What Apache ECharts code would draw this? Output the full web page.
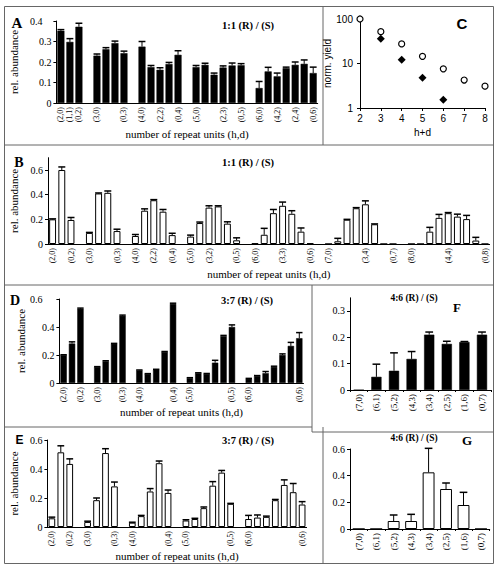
<!DOCTYPE html>
<html><head><meta charset="utf-8">
<script src="https://cdn.jsdelivr.net/npm/echarts@6/dist/echarts.min.js"></script>
<style>html,body{margin:0;padding:0;background:#fff}#c{width:500px;height:572px}</style>
</head><body><div id="c"></div>
<script>
// ---------- DATA ----------
// repeat-unit categories (h,d), grouped by h+d = 2..8
const unitGroups = [
  ['(2,0)','(1,1)','(0,2)'],
  ['(3,0)','(2,1)','(1,2)','(0,3)'],
  ['(4,0)','(3,1)','(2,2)','(1,3)','(0,4)'],
  ['(5,0)','(4,1)','(3,2)','(2,3)','(1,4)','(0,5)'],
  ['(6,0)','(5,1)','(4,2)','(3,3)','(2,4)','(1,5)','(0,6)'],
  ['(7,0)','(6,1)','(5,2)','(4,3)','(3,4)','(2,5)','(1,6)','(0,7)'],
  ['(8,0)','(7,1)','(6,2)','(5,3)','(4,4)','(3,5)','(2,6)','(1,7)','(0,8)']
];
const catsFG = ['(7,0)','(6,1)','(5,2)','(4,3)','(3,4)','(2,5)','(1,6)','(0,7)'];

const tickLabelsA = ['(2,0)','(1,1)','(0,2)','(3,0)','(0,3)','(4,0)','(2,2)','(0,4)','(5,0)','(2,3)','(0,5)','(6,0)','(4,2)','(2,4)','(0,6)'];
const tickLabelsB = ['(2,0)','(0,2)','(3,0)','(0,3)','(4,0)','(2,2)','(0,4)','(5,0)','(3,2)','(0,5)','(6,0)','(3,3)','(0,6)','(7,0)','(3,4)','(0,7)','(8,0)','(4,4)','(0,8)'];
const tickLabelsDE = ['(2,0)','(0,2)','(3,0)','(0,3)','(4,0)','(0,4)','(5,0)','(0,5)','(6,0)','(0,6)'];

// Panel A: 1:1 (R)/(S), black bars
const valuesA = [
  [0.352,0.298,0.372],
  [0.231,0.262,0.292,0.243],
  [0.275,0.175,0.162,0.190,0.235],
  [0.175,0.186,0.138,0.173,0.183,0.184],
  [0.073,0.154,0.130,0.170,0.186,0.191,0.146]
];
const errorsA = [
  [0.006,0.016,0.017],
  [0.008,0.008,0.010,0.010],
  [0.025,0.008,0.010,0.008,0.020],
  [0.008,0.008,0.008,0.008,0.012,0.008],
  [0.032,0.020,0.016,0.005,0.014,0.019,0.029]
];
// Panel B: 1:1 (R)/(S), white bars
const valuesB = [
  [0.200,0.600,0.195],
  [0.090,0.410,0.415,0.105],
  [0.065,0.270,0.355,0.262,0.072],
  [0.060,0.170,0.295,0.305,0.165,0.030],
  [0.005,0.075,0.250,0.310,0.245,0.100,0.005],
  [0,0.022,0.197,0.290,0.322,0.160,0,0],
  [0,0,0.100,0.212,0.250,0.222,0.202,0.028,0]
];
const errorsB = [
  [0.004,0.025,0.020],
  [0.004,0.004,0.015,0.015],
  [0.012,0.015,0.005,0.018,0.015],
  [0.012,0.008,0.015,0.005,0.015,0.020],
  [0,0.052,0.030,0.030,0.025,0.030,0],
  [0,0.024,0.003,0.005,0.028,0.003,0,0],
  [0,0,0.035,0.028,0.005,0.020,0.030,0.026,0]
];
// Panel C: normalised yield vs h+d (log scale)
const hdC = [2,3,4,5,6,7,8];
const yieldOpen = [100,52,27.5,14.5,7.6,4.25,3.1];
const hdFilled = [3,4,5,6];
const yieldFilled = [36,12.2,4.8,1.53];
// Panel D: 3:7 (R)/(S), black bars
const valuesD = [
  [0.200,0.282,0.530],
  [0.115,0.155,0.280,0.480],
  [0.090,0.065,0.095,0.222,0.565],
  [0.035,0.070,0.065,0.145,0.335,0.400],
  [0.030,0.050,0.070,0.115,0.200,0.265,0.320]
];
const errorsD = [
  [0.002,0.012,0.005],
  [0.002,0.004,0.003,0.005],
  [0.003,0.002,0.003,0.003,0.005],
  [0.003,0.003,0.003,0.017,0.005,0.015],
  [0.003,0.003,0.012,0.005,0.008,0.025,0.040]
];
// Panel E: 3:7 (R)/(S), white bars
const valuesE = [
  [0.060,0.515,0.435],
  [0.035,0.185,0.510,0.280],
  [0.030,0.075,0.245,0.440,0.235],
  [0.045,0.055,0.130,0.285,0.375,0.160],
  [0.055,0.065,0.070,0.185,0.290,0.240,0.155]
];
const errorsE = [
  [0.008,0.045,0.035],
  [0.005,0.015,0.030,0.030],
  [0.003,0.005,0.020,0.015,0.020],
  [0.005,0.005,0.008,0.028,0.015,0.003],
  [0.025,0.018,0.005,0.005,0.035,0.060,0.020]
];
// Panel F: 4:6 (R)/(S), black bars
const valuesF = [0,0.050,0.073,0.118,0.210,0.175,0.182,0.210];
const errorsF = [0,0.048,0.068,0.028,0.010,0.010,0.002,0.010];
// Panel G: 4:6 (R)/(S), white bars
const valuesG = [0,0,0.060,0.060,0.425,0.300,0.180,0];
const errorsG = [0,0,0.045,0.050,0.180,0.045,0.095,0];

// ---------- BUILD ----------
const SERIF = '"Liberation Serif", "Times New Roman", serif';
const SANS = '"Liberation Sans", Arial, sans-serif';

function flatCats(groups){ const o=[]; groups.forEach((g,i)=>{ if(i>0) o.push('gap'+i); o.push(...g); }); return o; }
function flatVals(groups){ const o=[]; groups.forEach((g,i)=>{ if(i>0) o.push(null); o.push(...g); }); return o; }
function errData(vals, errs){ const o=[]; vals.forEach((v,i)=>{ if(v!==null && errs[i]>0) o.push([i, v, errs[i]]); }); return o; }
function errRender(capFrac){
  return function(params, api){
    const i=api.value(0), v=api.value(1), e=api.value(2);
    const p0=api.coord([i,v]), p1=api.coord([i,v+e]);
    const hw=api.size([1,0])[0]*capFrac;
    return {type:'group', children:[
      {type:'line', shape:{x1:p0[0],y1:p0[1],x2:p1[0],y2:p1[1]}, style:{stroke:'#000',lineWidth:1}},
      {type:'line', shape:{x1:p1[0]-hw,y1:p1[1],x2:p1[0]+hw,y2:p1[1]}, style:{stroke:'#000',lineWidth:1.5}}
    ]};
  };
}
const fmt = v => v===0 ? '0' : v.toFixed(1);

const grids=[], xAxes=[], yAxes=[], series=[];
function addBarPanel(o){
  const k = grids.length;
  grids.push(o.grid);
  xAxes.push({type:'category', gridIndex:k, data:o.cats,
    axisLine:{lineStyle:{color:'#000',width:1}},
    axisTick:o.ticks ? {show:true, length:2, interval:0, alignWithLabel:false, lineStyle:{color:'#000'}} : {show:false},
    axisLabel:{interval:0, rotate:90, fontSize:o.xfont||8, fontFamily:SERIF, color:'#000', margin:4,
      formatter:(v)=> o.labels.indexOf(v)>=0 ? v : ''},
    name:o.xname||'', nameLocation:'middle', nameGap:o.xnameGap||22,
    nameTextStyle:{fontFamily:SERIF, fontSize:11, color:'#000'}
  });
  yAxes.push({type:'value', gridIndex:k, min:0, max:o.max,
    splitLine:{show:false},
    axisLine:{show:true, lineStyle:{color:'#000',width:1}},
    axisTick:{show:true, length:3, customValues:o.ticksY, lineStyle:{color:'#000'}},
    axisLabel:{customValues:o.ticksY, fontSize:10, fontFamily:SERIF, color:'#000', margin:5,
      formatter:(v)=>{ const s=fmt(v); return (o.shiftTop!==undefined && Math.abs(v-o.shiftTop)<1e-9) ? '{s|'+s+'}' : s; },
      rich:{s:{padding:[0,o.shiftPad||10,0,0], fontSize:10, fontFamily:SERIF, color:'#000'}}},
    name:o.yname||'', nameLocation:'middle', nameRotate:90, nameGap:o.ynameGap||20,
    nameTextStyle:{fontFamily:SERIF, fontSize:11, color:'#000'}
  });
  series.push({type:'bar', xAxisIndex:k, yAxisIndex:k, data:o.vals, barWidth:o.barWidth||'75%',
    itemStyle: o.white ? {color:'#fff', borderColor:'#000', borderWidth:1} : {color:'#000', borderColor:'#000', borderWidth:0.5},
    silent:true, animation:false});
  series.push({type:'custom', xAxisIndex:k, yAxisIndex:k, data:errData(o.vals,o.errs),
    encode:{x:0,y:1}, renderItem:errRender(o.cap||0.38), z:5, silent:true, animation:false});
}

const catsA = flatCats(unitGroups.slice(0,5));
const catsB = flatCats(unitGroups);

addBarPanel({grid:{left:47, top:21, width:270.7, height:82}, cats:catsA, labels:tickLabelsA,
  vals:flatVals(valuesA), errs:flatVals(errorsA), white:false, max:0.4, ticksY:[0,0.1,0.2,0.3,0.4],
  shiftTop:0.4, shiftPad:9, barWidth:'78%',
  yname:'rel. abundance', ynameGap:22, xname:'number of repeat units (h,d)', xnameGap:25});
addBarPanel({grid:{left:48, top:157.7, width:441.6, height:86.3}, cats:catsB, labels:tickLabelsB,
  vals:flatVals(valuesB), errs:flatVals(errorsB), white:true, max:0.7, ticksY:[0,0.2,0.4,0.6],
  yname:'rel. abundance', ynameGap:23, xname:'number of repeat units (h,d)', xnameGap:24});

// Panel C (scatter, log)
(function(){
  const k = grids.length;
  grids.push({left:360, top:19, width:125, height:89});
  xAxes.push({type:'value', gridIndex:k, min:2, max:8, interval:1,
    splitLine:{show:false}, axisLine:{lineStyle:{color:'#000'}}, axisTick:{length:3, lineStyle:{color:'#000'}},
    axisLabel:{fontFamily:SANS, fontSize:10, color:'#000', margin:5},
    name:'h+d', nameLocation:'middle', nameGap:19, nameTextStyle:{fontFamily:SANS, fontSize:10, color:'#000'}});
  yAxes.push({type:'log', gridIndex:k, min:1, max:100, logBase:10,
    splitLine:{show:false}, axisLine:{show:true, lineStyle:{color:'#000'}}, axisTick:{show:true, length:3, lineStyle:{color:'#000'}},
    axisLabel:{fontFamily:SANS, fontSize:10, color:'#000', margin:7},
    name:'norm. yield', nameLocation:'middle', nameRotate:90, nameGap:20, nameTextStyle:{fontFamily:SANS, fontSize:10, color:'#000'}});
  series.push({type:'scatter', xAxisIndex:k, yAxisIndex:k, symbol:'circle', symbolSize:6,
    data: hdC.map((x,i)=>[x, yieldOpen[i]]), clip:false,
    itemStyle:{color:'#fff', borderColor:'#000', borderWidth:1.2, opacity:1}, silent:true, animation:false, z:3});
  series.push({type:'scatter', xAxisIndex:k, yAxisIndex:k, symbol:'diamond', symbolSize:8,
    data: hdFilled.map((x,i)=>[x, yieldFilled[i]]), clip:false,
    itemStyle:{color:'#000', opacity:1}, silent:true, animation:false, z:3});
})();

addBarPanel({grid:{left:43, top:299, width:260.5, height:84}, cats:catsA, labels:tickLabelsDE,
  vals:flatVals(valuesD), errs:flatVals(errorsD), white:false, max:0.6, ticksY:[0,0.2,0.4,0.6],
  shiftTop:0.6, shiftPad:12,
  yname:'rel. abundance', ynameGap:16, xname:'number of repeat units (h,d)', xnameGap:22});
addBarPanel({grid:{left:45, top:440, width:261.6, height:87}, cats:catsA, labels:tickLabelsDE,
  vals:flatVals(valuesE), errs:flatVals(errorsE), white:true, max:0.6, ticksY:[0,0.2,0.4,0.6],
  yname:'rel. abundance', ynameGap:16, xname:'number of repeat units (h,d)', xnameGap:22});
addBarPanel({grid:{left:350, top:297.8, width:140.8, height:92.2}, cats:catsFG, labels:catsFG,
  vals:valuesF, errs:errorsF, white:false, max:0.35, ticksY:[0,0.1,0.2,0.3], barWidth:'58%', cap:0.22, ticks:true, xfont:9});
addBarPanel({grid:{left:350, top:449, width:139.7, height:80}, cats:catsFG, labels:catsFG,
  vals:valuesG, errs:errorsG, white:true, max:0.6, ticksY:[0,0.2,0.4,0.6], barWidth:'68%', cap:0.22, ticks:true, xfont:9});

// ---------- DECORATION (frames, titles) ----------
const LC = '#666';
function L(x1,y1,x2,y2){ return {type:'line', shape:{x1,y1,x2,y2}, style:{stroke:LC, lineWidth:1}, silent:true}; }
function T(text,x,y,size,font,weight){ return {type:'text', x, y, style:{text, fill:'#000', font:(weight||'bold')+' '+size+'px '+font, textAlign:'center', textVerticalAlign:'middle'}, silent:true}; }
const graphics = [
  {type:'rect', shape:{x:4.5,y:6.5,width:489,height:557}, style:{fill:'none', stroke:LC, lineWidth:1}, silent:true},
  L(323,6.5,323,145), L(4.5,145,493.5,145), L(4.5,285,493.5,285),
  L(312,285,312,432), L(4.5,427,312,427), L(312,432,493.5,432), L(323,427,323,563.5),
  T('A',17,23,15,SERIF), T('1:1 (R) / (S)',248,25,10.5,SERIF),
  T('C',462,23,15,SANS),
  T('B',19,162,14,SERIF), T('1:1 (R) / (S)',248,162,10.5,SERIF),
  T('D',15,300,14,SERIF), T('3:7 (R) / (S)',247,300,10.5,SERIF),
  T('E',19.5,440,12,SANS), T('3:7 (R) / (S)',248,440,10.5,SERIF),
  T('4:6 (R) / (S)',414,298,9.5,SERIF), T('F',457,307,13,SERIF),
  T('4:6 (R) / (S)',414,438,9.5,SERIF), T('G',467,440,13,SERIF)
];

const chart = echarts.init(document.getElementById('c'), null, {renderer:'svg', width:500, height:572});
chart.setOption({
  animation:false,
  backgroundColor:'#fff',
  grid:grids, xAxis:xAxes, yAxis:yAxes, series:series,
  graphic:graphics
});
</script>
</body></html>
